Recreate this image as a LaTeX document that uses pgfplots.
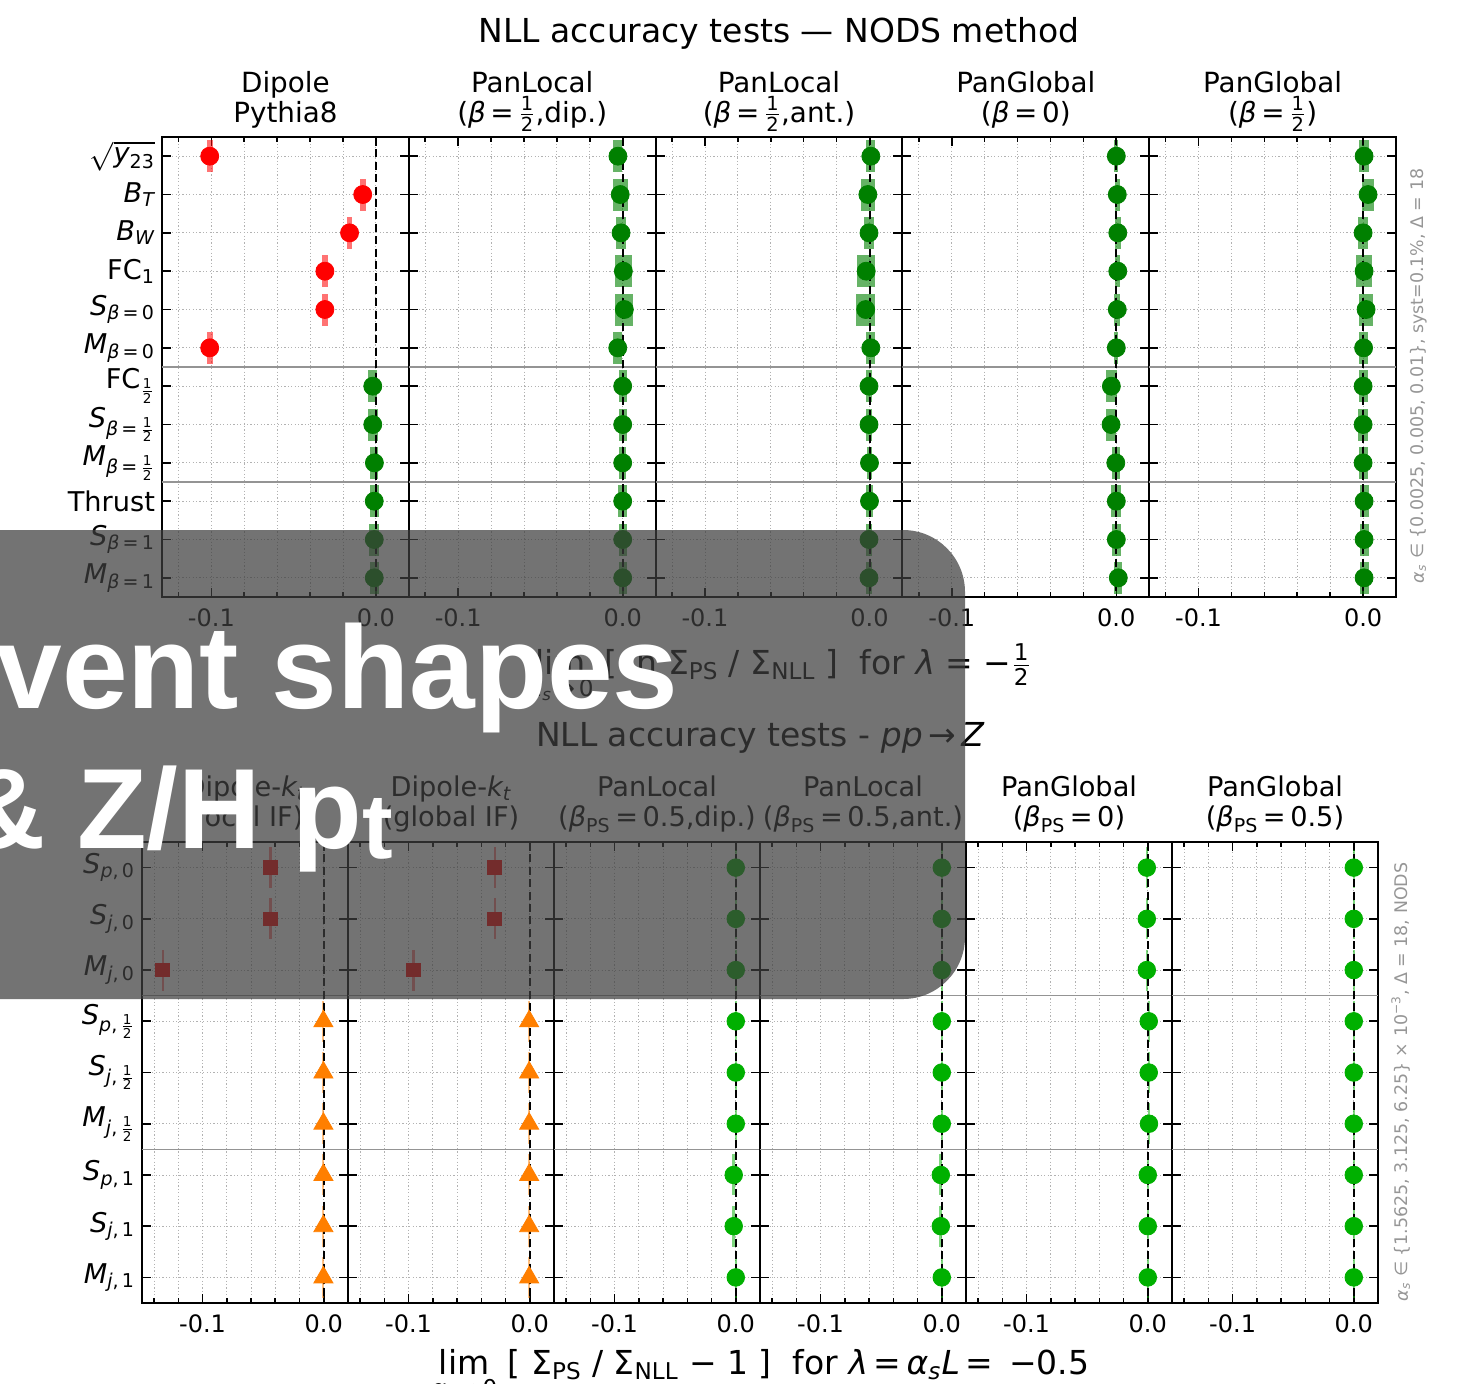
\documentclass[border=0pt]{standalone}
\usepackage{fontspec}
\setmainfont{DejaVu Sans}
\setmonofont{DejaVu Sans Mono}
\newfontfamily\ovfont{Liberation Sans}
\usepackage{amsmath}
\usepackage{pgfplots}
\usepackage{pgfplotstable}
\pgfplotsset{compat=1.18}

\definecolor{mred}{RGB}{255,0,0}
\definecolor{mgreen}{RGB}{0,128,0}
\definecolor{bgreen}{RGB}{0,176,0}
\definecolor{morange}{RGB}{255,127,0}
\definecolor{ovgray}{RGB}{61,61,61}
\definecolor{txtgray}{RGB}{150,150,150}

\newcommand{\mi}[1]{\textit{#1}}
\newcommand{\mt}[1]{\text{#1}}
\newcommand{\half}{\frac{\text{1}}{\text{2}}}

\pgfplotsset{
  panelbase/.style={
    scale only axis, anchor=north west, y dir=reverse,
    xtick={-0.1,0}, xticklabels={-0.1,0.0},
    grid=both,
    major grid style={line width=0.45pt, color=black!30, dash pattern=on 0.6pt off 1.1pt},
    minor grid style={line width=0.45pt, color=black!30, dash pattern=on 0.6pt off 1.1pt},
    tick align=inside, xtick pos=both, ytick pos=both,
    major tick length=4.5pt, minor tick length=2.3pt,
    every tick/.style={black, line width=0.8pt},
    axis line style={line width=1pt},
    xticklabel style={font=\fontsize{12}{14}\selectfont, yshift=-2.5pt},
    yticklabel style={font=\fontsize{13.6}{16}\selectfont},
  },
  toppanel/.style={panelbase, width=123.4pt, height=230pt,
    xmin=-0.13, xmax=0.02, ymin=-0.5, ymax=11.5, ytick={0,...,11},
    minor xtick={-0.12,-0.08,-0.06,-0.04,-0.02}, yticklabel={\relax}},
  botpanel/.style={panelbase, width=103pt, height=230.5pt,
    xmin=-0.15, xmax=0.02, ymin=-0.5, ymax=8.5, ytick={0,...,8},
    minor xtick={-0.14,-0.12,-0.08,-0.06,-0.04,-0.02}, yticklabel={\relax}},
}

\newcommand{\boxes}[4]{\addplot[only marks, mark=none, forget plot,
  error bars/.cd, x dir=both, x explicit, error mark=none,
  error bar style={line width=#3, color=#2, opacity=#4}] table[x=x,y=y,x error=e]{#1};}
\newcommand{\pts}[4]{\addplot[only marks, mark=#3, mark size=#4, color=#2,
  mark options={solid, draw=none, fill=#2}, forget plot] table[x=x,y=y]{#1};}
\newcommand{\zeroline}[1]{\addplot[black, line width=1pt, dash pattern=on 4pt off 2.2pt, forget plot] coordinates {(0,-0.5) (0,#1)};}
\newcommand{\sepline}[2]{\addplot[black!42, line width=0.7pt, forget plot] coordinates {(#1,#2) (0.02,#2)};}

% ---------- top panel data (e+e- event shapes) ----------
\pgfplotstableread{
y x e
0 -0.101 0.0017
1 -0.008 0.0017
2 -0.016 0.0017
3 -0.031 0.0017
4 -0.031 0.0017
5 -0.101 0.0017
}\tAr
\pgfplotstableread{
y x e
6 -0.0019 0.0027
7 -0.0019 0.0032
8 -0.0009 0.0024
9 -0.0010 0.0027
10 -0.0010 0.0030
11 -0.0010 0.0027
}\tAg
\pgfplotstableread{
y x e
0 -0.0029 0.0027
1 -0.0015 0.0045
2 -0.0010 0.0030
3 0.0004 0.0053
4 0.0010 0.0055
5 -0.0030 0.0027
6 0.0000 0.0024
7 0.0000 0.0024
8 0.0000 0.0020
9 0.0000 0.0027
10 0.0000 0.0024
11 0.0000 0.0024
}\tB
\pgfplotstableread{
y x e
0 0.0008 0.0028
1 -0.0010 0.0044
2 -0.0003 0.0032
3 -0.0020 0.0053
4 -0.0023 0.0059
5 0.0008 0.0028
6 -0.0003 0.0016
7 -0.0003 0.0016
8 0.0000 0.0016
9 0.0000 0.0020
10 -0.0003 0.0020
11 -0.0003 0.0020
}\tC
\pgfplotstableread{
y x e
0 0.0000 0.0012
1 0.0006 0.0016
2 0.0009 0.0018
3 0.0009 0.0015
4 0.0006 0.0018
5 0.0000 0.0012
6 -0.0030 0.0032
7 -0.0032 0.0032
8 -0.0003 0.0024
9 0.0000 0.0030
10 0.0000 0.0027
11 0.0012 0.0024
}\tD
\pgfplotstableread{
y x e
0 0.0006 0.0030
1 0.0030 0.0036
2 0.0000 0.0030
3 0.0006 0.0047
4 0.0018 0.0040
5 0.0003 0.0027
6 0.0000 0.0027
7 0.0000 0.0030
8 0.0000 0.0027
9 0.0006 0.0027
10 0.0006 0.0027
11 0.0006 0.0027
}\tE

% ---------- bottom panel data (pp -> Z) ----------
\pgfplotstableread{
y x e
0 -0.044 0.0009
1 -0.044 0.0009
2 -0.133 0.0009
}\uAr
\pgfplotstableread{
y x e
3 -0.0003 0.0009
4 -0.0003 0.0009
5 -0.0003 0.0009
6 -0.0003 0.0009
7 -0.0003 0.0009
8 -0.0003 0.0009
}\uAo
\pgfplotstableread{
y x e
0 -0.029 0.0009
1 -0.029 0.0009
2 -0.096 0.0009
}\uBr
\pgfplotstableread{
y x e
3 -0.0005 0.0009
4 -0.0005 0.0009
5 -0.0005 0.0009
6 -0.0005 0.0009
7 -0.0005 0.0009
8 -0.0005 0.0009
}\uBo
\pgfplotstableread{
y x e
0 0.0000 0.0009
1 0.0000 0.0009
2 0.0000 0.0009
3 0.0000 0.0009
4 0.0000 0.0009
5 0.0000 0.0009
6 -0.0017 0.0012
7 -0.0017 0.0012
8 0.0000 0.0009
}\uC
\pgfplotstableread{
y x e
0 0.0000 0.0009
1 0.0000 0.0009
2 0.0000 0.0009
3 0.0000 0.0009
4 0.0000 0.0009
5 0.0000 0.0009
6 -0.0008 0.0012
7 -0.0008 0.0012
8 0.0000 0.0009
}\uD
\pgfplotstableread{
y x e
0 -0.0008 0.0009
1 -0.0008 0.0009
2 -0.0008 0.0009
3 0.0008 0.0009
4 0.0008 0.0009
5 0.0010 0.0012
6 0.0000 0.0009
7 0.0000 0.0009
8 0.0000 0.0009
}\uE
\pgfplotstableread{
y x e
0 0.0000 0.0009
1 0.0000 0.0009
2 0.0000 0.0009
3 0.0000 0.0009
4 0.0000 0.0009
5 0.0000 0.0009
6 0.0000 0.0009
7 0.0000 0.0009
8 0.0000 0.0009
}\uF

\begin{document}
\begin{tikzpicture}
\path[use as bounding box] (0pt,0pt) rectangle (730.5pt,-691.5pt);

% ================= TOP =================
\node[font=\fontsize{16.5}{19}\selectfont, anchor=base] at (389.5pt,-21pt) {NLL accuracy tests — NODS method};

\begin{axis}[toppanel, at={(81pt,-68.5pt)},
  yticklabels={$\sqrt{\mi{y}_{\mt{23}}}$, $\mi{B}_{\mi{T}}$, $\mi{B}_{\mi{W}}$, FC$_{\mt{1}}$,
   $\mi{S}_{\mi{β}\mt{\,=\,0}}$, $\mi{M}_{\mi{β}\mt{\,=\,0}}$, FC$_{\half}$,
   $\mi{S}_{\mi{β}\mt{\,=\,}\half}$, $\mi{M}_{\mi{β}\mt{\,=\,}\half}$, Thrust,
   $\mi{S}_{\mi{β}\mt{\,=\,1}}$, $\mi{M}_{\mi{β}\mt{\,=\,1}}$}]
\sepline{-0.13}{5.5}\sepline{-0.13}{8.5}
\boxes{\tAr}{mred}{16pt}{0.55}
\boxes{\tAg}{mgreen}{16pt}{0.6}
\zeroline{11.5}
\pts{\tAr}{mred}{*}{4.5pt}
\pts{\tAg}{mgreen}{*}{4.5pt}
\end{axis}

\begin{axis}[toppanel, at={(204.4pt,-68.5pt)}]
\sepline{-0.13}{5.5}\sepline{-0.13}{8.5}
\boxes{\tB}{mgreen}{16pt}{0.6}
\zeroline{11.5}
\pts{\tB}{mgreen}{*}{4.5pt}
\end{axis}

\begin{axis}[toppanel, at={(327.8pt,-68.5pt)}]
\sepline{-0.13}{5.5}\sepline{-0.13}{8.5}
\boxes{\tC}{mgreen}{16pt}{0.6}
\zeroline{11.5}
\pts{\tC}{mgreen}{*}{4.5pt}
\end{axis}

\begin{axis}[toppanel, at={(451.2pt,-68.5pt)}]
\sepline{-0.13}{5.5}\sepline{-0.13}{8.5}
\boxes{\tD}{mgreen}{16pt}{0.6}
\zeroline{11.5}
\pts{\tD}{mgreen}{*}{4.5pt}
\end{axis}

\begin{axis}[toppanel, at={(574.6pt,-68.5pt)}]
\sepline{-0.13}{5.5}\sepline{-0.13}{8.5}
\boxes{\tE}{mgreen}{16pt}{0.6}
\zeroline{11.5}
\pts{\tE}{mgreen}{*}{4.5pt}
\end{axis}

\begin{scope}[every node/.style={font=\fontsize{13.9}{16}\selectfont, anchor=base, inner sep=0pt}]
\node at (142.7pt,-46pt) {Dipole};
\node at (142.7pt,-61pt) {Pythia8};
\node at (266.1pt,-46pt) {PanLocal};
\node at (266.1pt,-61pt) {($\mi{β}\mt{\,=\,}\half$,dip.)};
\node at (389.5pt,-46pt) {PanLocal};
\node at (389.5pt,-61pt) {($\mi{β}\mt{\,=\,}\half$,ant.)};
\node at (512.9pt,-46pt) {PanGlobal};
\node at (512.9pt,-61pt) {($\mi{β}\mt{\,=\,0}$)};
\node at (636.3pt,-46pt) {PanGlobal};
\node at (636.3pt,-61pt) {($\mi{β}\mt{\,=\,}\half$)};
\end{scope}

\node[font=\fontsize{16.5}{19}\selectfont, anchor=base] at (389.5pt,-337pt)
 {$\mathop{\text{lim}}\limits_{\mi{α}_{\mi{s}}\mt{\,→\,0}}$ [ ln Σ$_{\mt{PS}}$ / Σ$_{\mt{NLL}}$ ]~~for $\mi{λ}\mt{ = −}\frac{\text{1}}{\text{2}}$};

\node[rotate=90, text=txtgray, font=\fontsize{8.7}{10}\selectfont] at (709.5pt,-188pt)
 {$\mi{α}_{\mi{s}}$ ∈ \{0.0025, 0.005, 0.01\}, syst=0.1\%, Δ = 18};

% ================= BOTTOM =================
\node[font=\fontsize{16.5}{19}\selectfont, anchor=base] at (380pt,-373pt) {NLL accuracy tests - $\mi{pp}\mt{\,→\,}\mi{Z}$};

\begin{axis}[botpanel, at={(71pt,-421pt)},
  yticklabels={$\mi{S}_{\mi{p}\mt{,\,0}}$, $\mi{S}_{\mi{j}\mt{,\,0}}$, $\mi{M}_{\mi{j}\mt{,\,0}}$,
   $\mi{S}_{\mi{p}\mt{,\,}\half}$, $\mi{S}_{\mi{j}\mt{,\,}\half}$, $\mi{M}_{\mi{j}\mt{,\,}\half}$,
   $\mi{S}_{\mi{p}\mt{,\,1}}$, $\mi{S}_{\mi{j}\mt{,\,1}}$, $\mi{M}_{\mi{j}\mt{,\,1}}$}]
\sepline{-0.15}{2.5}\sepline{-0.15}{5.5}
\boxes{\uAr}{mred}{20.5pt}{0.5}
\boxes{\uAo}{morange}{20.5pt}{0.5}
\zeroline{8.5}
\pts{\uAr}{mred}{square*}{3.4pt}
\pts{\uAo}{morange}{triangle*}{5.5pt}
\end{axis}

\begin{axis}[botpanel, at={(174pt,-421pt)}]
\sepline{-0.15}{2.5}\sepline{-0.15}{5.5}
\boxes{\uBr}{mred}{20.5pt}{0.5}
\boxes{\uBo}{morange}{20.5pt}{0.5}
\zeroline{8.5}
\pts{\uBr}{mred}{square*}{3.4pt}
\pts{\uBo}{morange}{triangle*}{5.5pt}
\end{axis}

\begin{axis}[botpanel, at={(277pt,-421pt)}]
\sepline{-0.15}{2.5}\sepline{-0.15}{5.5}
\boxes{\uC}{bgreen}{20.5pt}{0.5}
\zeroline{8.5}
\pts{\uC}{bgreen}{*}{4.4pt}
\end{axis}

\begin{axis}[botpanel, at={(380pt,-421pt)}]
\sepline{-0.15}{2.5}\sepline{-0.15}{5.5}
\boxes{\uD}{bgreen}{20.5pt}{0.5}
\zeroline{8.5}
\pts{\uD}{bgreen}{*}{4.4pt}
\end{axis}

\begin{axis}[botpanel, at={(483pt,-421pt)}]
\sepline{-0.15}{2.5}\sepline{-0.15}{5.5}
\boxes{\uE}{bgreen}{20.5pt}{0.5}
\zeroline{8.5}
\pts{\uE}{bgreen}{*}{4.4pt}
\end{axis}

\begin{axis}[botpanel, at={(586pt,-421pt)}]
\sepline{-0.15}{2.5}\sepline{-0.15}{5.5}
\boxes{\uF}{bgreen}{20.5pt}{0.5}
\zeroline{8.5}
\pts{\uF}{bgreen}{*}{4.4pt}
\end{axis}

\begin{scope}[every node/.style={font=\fontsize{13.6}{16}\selectfont, anchor=base, inner sep=0pt}]
\node at (122.5pt,-398pt) {Dipole-$\mi{k}_{\mi{t}}$};
\node at (122.5pt,-413pt) {(local IF)};
\node at (225.5pt,-398pt) {Dipole-$\mi{k}_{\mi{t}}$};
\node at (225.5pt,-413pt) {(global IF)};
\node at (328.5pt,-398pt) {PanLocal};
\node at (328.5pt,-413pt) {($\mi{β}_{\mt{PS}}\mt{\,=\,0.5}$,dip.)};
\node at (431.5pt,-398pt) {PanLocal};
\node at (431.5pt,-413pt) {($\mi{β}_{\mt{PS}}\mt{\,=\,0.5}$,ant.)};
\node at (534.5pt,-398pt) {PanGlobal};
\node at (534.5pt,-413pt) {($\mi{β}_{\mt{PS}}\mt{\,=\,0}$)};
\node at (637.5pt,-398pt) {PanGlobal};
\node at (637.5pt,-413pt) {($\mi{β}_{\mt{PS}}\mt{\,=\,0.5}$)};
\end{scope}

\node[font=\fontsize{16.5}{19}\selectfont, anchor=base] at (380pt,-687pt)
 {$\mathop{\text{lim}}\limits_{\mi{α}_{\mi{s}}\mt{\,→\,0}}$ [ Σ$_{\mt{PS}}$ / Σ$_{\mt{NLL}}$ − 1 ]~~for $\mi{λ}\mt{\,=\,}\mi{α}_{\mi{s}}\mi{L}\mt{\,=\, −0.5}$};

\node[rotate=90, text=txtgray, font=\fontsize{8.7}{10}\selectfont] at (700.5pt,-541pt)
 {$\mi{α}_{\mi{s}}$ ∈ \{1.5625, 3.125, 6.25\} × 10$^{\mt{−3}}$, Δ = 18, NODS};

% ================= OVERLAY =================
\fill[ovgray, opacity=0.72, rounded corners=31pt] (-40pt,-265pt) rectangle (482.5pt,-499.5pt);
\node[anchor=base west, inner sep=0pt, text=white, font=\ovfont\bfseries\fontsize{59}{62}\selectfont] at (-2pt,-354pt) {vent shapes};
\node[anchor=base west, inner sep=0pt, text=white, font=\ovfont\bfseries\fontsize{57}{60}\selectfont] at (-18.5pt,-424pt) {\& Z/H p\raisebox{-5pt}{\fontsize{46}{46}\selectfont t}};
\end{tikzpicture}
\end{document}
